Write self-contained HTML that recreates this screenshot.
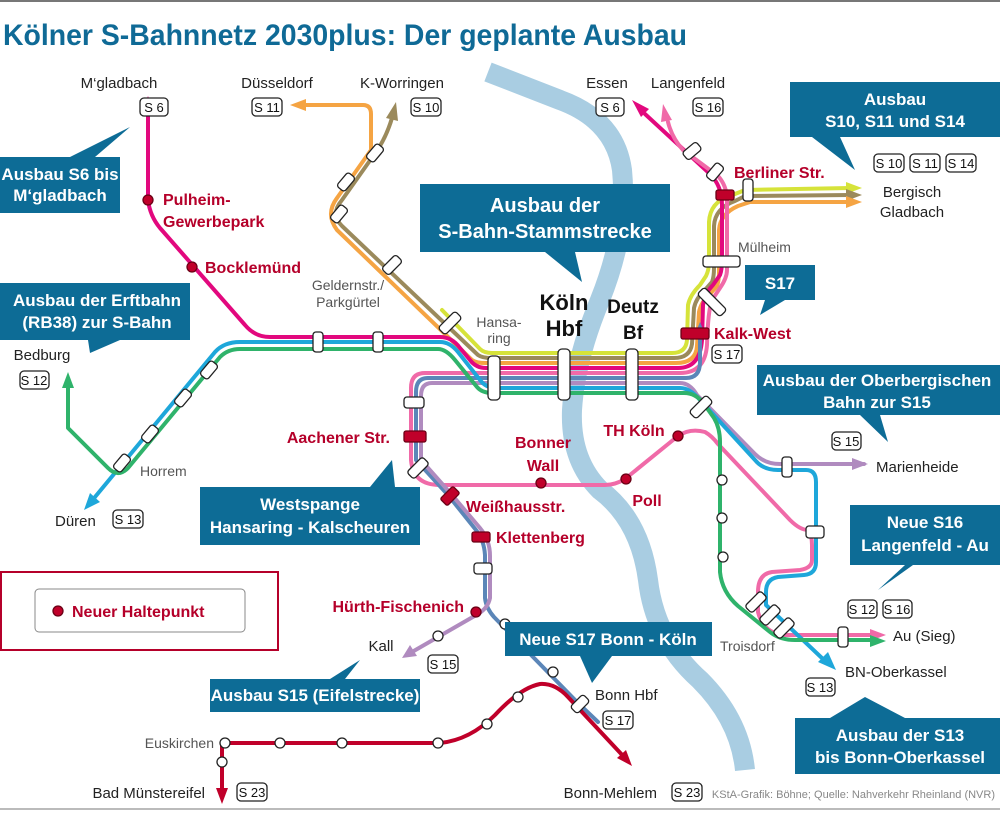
<!DOCTYPE html>
<html><head><meta charset="utf-8"><style>
html,body{margin:0;padding:0;background:#fff;}
svg{display:block;font-family:"Liberation Sans",sans-serif;}
.l{font-size:15px;fill:#222;}
.g{font-size:14px;fill:#555;}
.r{font-size:16px;fill:#b5002a;font-weight:bold;}
.c{font-size:17px;fill:#fff;font-weight:bold;}
.t{font-size:13px;fill:#111;}
.st{fill:#fff;stroke:#222;stroke-width:1.3;}
.rs{fill:#c0002a;stroke:#6a0015;stroke-width:1.3;}
</style></head><body>
<svg width="1000" height="820" viewBox="0 0 1000 820">
<rect x="0" y="0" width="1000" height="2" fill="#777"/>
<rect x="0" y="808" width="1000" height="2" fill="#bbb"/>
<text x="3" y="45" font-size="30" font-weight="bold" fill="#0f6a96" textLength="684" lengthAdjust="spacingAndGlyphs">Kölner S-Bahnnetz 2030plus: Der geplante Ausbau</text>

<!-- river -->
<path d="M488,72 L560,100 Q615,120 622,170 Q628,230 600,300 Q575,360 572,410 Q570,460 600,490 Q640,520 648,580 Q655,640 700,680 Q740,720 745,770" fill="none" stroke="#a9cde2" stroke-width="20"/>

<g fill="none" stroke-width="4" stroke-linejoin="round" stroke-linecap="round">
<path d="M442,310 L480,349 Q484,353 492,353 L672,353 Q686,353 687,340 L688,305 Q690,295 700,285 L706,276 Q709,270 709,262 L709,222 Q710,202 730,196 L745,190 L850,188" stroke="#d6e33a"/>
<path d="M392,118 Q386,138 376,152 L342,200 Q330,214 342,226 L478,355 Q482,358 492,358 L674,358 Q690,358 692,344 L694,308 Q696,298 705,290 L712,282 Q714,277 714,268 L714,226 Q715,208 735,201 L745,196 L850,195" stroke="#9b8a5c"/>
<path d="M305,105 L363,105 Q371,105 371,114 L371,150 L337,198 Q325,214 337,230 L472,360 Q476,363 486,363 L676,363 Q696,363 697,346 L699,312 Q701,302 710,294 L717,286 Q719,281 719,272 L719,230 Q720,214 738,206 L750,202 L850,202" stroke="#f5a443"/>
<path d="M148,112 L148,200 Q150,216 160,228 L245,325 Q255,337 270,337 L440,337 Q452,337 460,348 L470,360 Q476,368 486,368 L678,368 Q700,368 702,340 L703,305 Q705,293 713,285 L720,275 Q722,270 722,260 L722,205 Q722,186 710,174 L645,114" stroke="#e2087e"/>
<path d="M668,122 Q672,138 683,150 L718,176 Q727,186 727,200 L727,270 Q727,278 720,288 L712,300 Q708,310 707,345 Q705,373 680,373 L425,373 Q411,373 411,388 L411,460 Q413,485 440,485 L605,485 Q615,485 625,479 L678,436 Q690,428 705,432 Q712,436 718,444 L790,520 Q800,530 808,530 Q812,535 812,545 L812,560 Q812,568 800,570 L772,572 Q758,574 758,592 L758,612 Q762,628 775,633 L785,635 L870,635" stroke="#f06aa8"/>
<path d="M700,332 L700,362 Q700,378 686,378 L428,378 Q416,378 416,392 L416,460 L448,495 L476,530 Q484,540 485,555 L485,598 Q486,608 494,617 L578,703 L598,722" stroke="#5b86b8"/>
<path d="M864,464 L780,464 Q765,464 755,454 L697,395 Q690,383 680,383 L432,383 Q421,383 421,396 L421,460 L452,495 L480,528 Q490,540 490,556 L490,598 Q488,608 478,614 L412,652" stroke="#b08bbf"/>
<path d="M95,497 L215,352 Q224,342 240,342 L440,342 Q450,342 458,352 L480,380 Q486,388 496,388 L680,388 Q690,388 700,400 L755,460 Q763,470 778,470 L806,470 Q816,470 816,482 L816,562 Q816,574 804,575 L778,577 Q766,579 766,592 L766,605 L824,660" stroke="#1ea7da"/>
<path d="M68,385 L68,428 L108,468 Q118,478 128,468 L220,357 Q228,349 240,349 L438,349 Q446,349 455,360 L477,387 Q482,393 492,393 L684,393 Q696,393 704,404 L714,418 Q720,428 720,442 L720,572 Q722,592 738,606 L770,632 Q780,640 795,640 L870,640" stroke="#2fb36b"/>
<path d="M222,790 L222,743 L440,743 Q470,740 495,715 Q520,688 540,684 Q555,683 568,697 L625,758" stroke="#c0002a"/>
</g>
<g>
<polygon points="148,96 142,112 154,112" fill="#e2087e"/>
<polygon points="290,105 306,99 306,111" fill="#f5a443"/>
<polygon points="396,102 386,118 398,121" fill="#9b8a5c"/>
<polygon points="632,100 641,117 649,109" fill="#e2087e"/>
<polygon points="663,104 661,122 672,120" fill="#f06aa8"/>
<polygon points="862,188 846,182 846,194" fill="#d6e33a"/>
<polygon points="862,195 846,189 846,201" fill="#9b8a5c"/>
<polygon points="862,202 846,196 846,208" fill="#f5a443"/>
<polygon points="68,372 62,388 74,388" fill="#2fb36b"/>
<polygon points="84,510 90,493 100,502" fill="#1ea7da"/>
<polygon points="700,322 695,334 705,334" fill="#5b86b8"/>
<polygon points="868,464 852,458 852,470" fill="#b08bbf"/>
<polygon points="886,635 870,629 870,641" fill="#f06aa8"/>
<polygon points="886,641 870,635 870,647" fill="#2fb36b"/>
<polygon points="836,670 818,662 828,652" fill="#1ea7da"/>
<polygon points="402,658 410,645 417,656" fill="#b08bbf"/>
<polygon points="222,804 216,788 228,788" fill="#c0002a"/>
<polygon points="632,766 617,758 626,750" fill="#c0002a"/>
</g>

<g class="st">
<rect x="488" y="356" width="12" height="44" rx="4"/>
<rect x="558" y="349" width="12" height="51" rx="4"/>
<rect x="626" y="349" width="12" height="51" rx="4"/>
<rect x="313" y="332" width="10" height="20" rx="3"/>
<rect x="373" y="332" width="10" height="20" rx="3"/>
<rect x="703" y="256" width="37" height="11" rx="3"/>
<rect x="743" y="179" width="10" height="22" rx="3"/>
<rect x="782" y="457" width="10" height="20" rx="3"/>
<rect x="838" y="627" width="10" height="20" rx="3"/>
<rect x="806" y="526" width="18" height="12" rx="3"/>
<rect x="404" y="397" width="20" height="11" rx="3"/>
<rect x="474" y="563" width="18" height="11" rx="3"/>
<g transform="translate(122,463) rotate(-50)"><rect x="-9" y="-5" width="18" height="10" rx="3"/></g>
<g transform="translate(150,434) rotate(-50)"><rect x="-9" y="-5" width="18" height="10" rx="3"/></g>
<g transform="translate(183,398) rotate(-50)"><rect x="-9" y="-5" width="18" height="10" rx="3"/></g>
<g transform="translate(209,370) rotate(-50)"><rect x="-9" y="-5" width="18" height="10" rx="3"/></g>
<g transform="translate(375,153) rotate(-50)"><rect x="-9" y="-5" width="18" height="10" rx="3"/></g>
<g transform="translate(346,182) rotate(-50)"><rect x="-9" y="-5" width="18" height="10" rx="3"/></g>
<g transform="translate(339,214) rotate(-50)"><rect x="-9" y="-5" width="18" height="10" rx="3"/></g>
<g transform="translate(392,265) rotate(-45)"><rect x="-10" y="-5" width="20" height="10" rx="3"/></g>
<g transform="translate(450,323) rotate(-45)"><rect x="-12" y="-5" width="24" height="10" rx="3"/></g>
<g transform="translate(692,151) rotate(-40)"><rect x="-9" y="-5" width="18" height="10" rx="3"/></g>
<g transform="translate(715,172) rotate(-50)"><rect x="-9" y="-5" width="18" height="10" rx="3"/></g>
<g transform="translate(712,302) rotate(45)"><rect x="-16" y="-5" width="32" height="10" rx="3"/></g>
<g transform="translate(701,407) rotate(-45)"><rect x="-12" y="-5" width="24" height="10" rx="3"/></g>
<g transform="translate(418,468) rotate(-45)"><rect x="-11" y="-5" width="22" height="10" rx="3"/></g>
<g transform="translate(756,602) rotate(-45)"><rect x="-11" y="-5" width="22" height="10" rx="3"/></g>
<g transform="translate(770,615) rotate(-45)"><rect x="-11" y="-5" width="22" height="10" rx="3"/></g>
<g transform="translate(784,628) rotate(-45)"><rect x="-11" y="-5" width="22" height="10" rx="3"/></g>
<g transform="translate(580,704) rotate(-45)"><rect x="-9" y="-5" width="18" height="10" rx="3"/></g>
<circle cx="722" cy="480" r="5"/><circle cx="722" cy="518" r="5"/><circle cx="723" cy="557" r="5"/>
<circle cx="438" cy="636" r="5"/><circle cx="505" cy="624" r="5"/><circle cx="553" cy="672" r="5"/>
<circle cx="225" cy="743" r="5"/><circle cx="280" cy="743" r="5"/><circle cx="342" cy="743" r="5"/><circle cx="438" cy="743" r="5"/><circle cx="487" cy="724" r="5"/><circle cx="518" cy="697" r="5"/><circle cx="222" cy="762" r="5"/>
</g>
<g class="rs">
<rect x="716" y="190" width="18" height="10" rx="2"/>
<rect x="681" y="328" width="28" height="11" rx="2"/>
<rect x="404" y="431" width="22" height="11" rx="2"/>
<rect x="472" y="532" width="18" height="10" rx="2"/>
<g transform="translate(450,496) rotate(-45)"><rect x="-9" y="-5" width="18" height="10" rx="2"/></g>
<circle cx="148" cy="200" r="5"/><circle cx="192" cy="267" r="5"/>
<circle cx="541" cy="483" r="5"/><circle cx="626" cy="479" r="5"/><circle cx="678" cy="436" r="5"/>
<circle cx="476" cy="612" r="5"/>
</g>

<g fill="#0d6c96">
<rect x="0" y="157" width="120" height="56"/><polygon points="70,157 130,127 95,157"/>
<rect x="0" y="283" width="190" height="57"/><polygon points="88,340 90,353 120,340"/>
<rect x="420" y="184" width="250" height="68"/><polygon points="545,252 582,282 575,252"/>
<rect x="790" y="82" width="210" height="55"/><polygon points="812,137 855,170 840,137"/>
<rect x="745" y="265" width="70" height="35"/><polygon points="765,300 760,315 785,300"/>
<rect x="757" y="365" width="243" height="50"/><polygon points="860,415 888,442 880,415"/>
<rect x="200" y="487" width="220" height="58"/><polygon points="370,487 392,460 395,487"/>
<rect x="850" y="505" width="150" height="60"/><polygon points="905,565 913,565 878,590"/>
<rect x="505" y="622" width="207" height="34"/><polygon points="580,656 592,683 612,656"/>
<rect x="210" y="679" width="210" height="33"/><polygon points="330,679 360,660 345,679"/>
<rect x="795" y="718" width="205" height="56"/><polygon points="830,718 865,697 905,718"/>
</g>
<g class="c" text-anchor="middle">
<text x="60" y="180">Ausbau S6 bis</text><text x="60" y="201">M‘gladbach</text>
<text x="97" y="306">Ausbau der Erftbahn</text><text x="97" y="328">(RB38) zur S-Bahn</text>
<text x="545" y="212" font-size="20">Ausbau der</text><text x="545" y="238" font-size="20">S-Bahn-Stammstrecke</text>
<text x="895" y="105">Ausbau</text><text x="895" y="127">S10, S11 und S14</text>
<text x="780" y="289">S17</text>
<text x="877" y="386">Ausbau der Oberbergischen</text><text x="877" y="408">Bahn zur S15</text>
<text x="310" y="510">Westspange</text><text x="310" y="533">Hansaring - Kalscheuren</text>
<text x="925" y="528">Neue S16</text><text x="925" y="551">Langenfeld - Au</text>
<text x="608" y="645">Neue S17 Bonn - Köln</text>
<text x="315" y="701">Ausbau S15 (Eifelstrecke)</text>
<text x="900" y="741">Ausbau der S13</text><text x="900" y="763">bis Bonn-Oberkassel</text>
</g>

<rect x="1" y="572" width="277" height="78" fill="none" stroke="#b5002a" stroke-width="2"/>
<rect x="35" y="589" width="210" height="43" rx="4" fill="#fff" stroke="#888"/>
<circle cx="58" cy="611" r="5" class="rs"/>
<text x="72" y="617" class="r">Neuer Haltepunkt</text>

<g fill="#fff" stroke="#222" stroke-width="1.3">
<rect x="140" y="98" width="28" height="18" rx="4"/><rect x="252" y="98" width="30" height="18" rx="4"/><rect x="411" y="98" width="30" height="18" rx="4"/>
<rect x="596" y="98" width="28" height="18" rx="4"/><rect x="693" y="98" width="30" height="18" rx="4"/>
<rect x="874" y="154" width="30" height="18" rx="4"/><rect x="910" y="154" width="30" height="18" rx="4"/><rect x="946" y="154" width="30" height="18" rx="4"/>
<rect x="712" y="345" width="30" height="18" rx="4"/><rect x="20" y="371" width="29" height="18" rx="4"/><rect x="113" y="510" width="30" height="18" rx="4"/>
<rect x="832" y="432" width="29" height="18" rx="4"/><rect x="848" y="600" width="29" height="18" rx="4"/><rect x="883" y="600" width="29" height="18" rx="4"/>
<rect x="806" y="678" width="29" height="18" rx="4"/><rect x="428" y="655" width="30" height="18" rx="4"/><rect x="603" y="711" width="30" height="18" rx="4"/>
<rect x="237" y="783" width="30" height="18" rx="4"/><rect x="672" y="783" width="30" height="18" rx="4"/>
</g>
<g class="t" text-anchor="middle">
<text x="154" y="112">S 6</text><text x="267" y="112">S 11</text><text x="426" y="112">S 10</text>
<text x="610" y="112">S 6</text><text x="708" y="112">S 16</text>
<text x="889" y="168">S 10</text><text x="925" y="168">S 11</text><text x="961" y="168">S 14</text>
<text x="727" y="359">S 17</text><text x="34" y="385">S 12</text><text x="128" y="524">S 13</text>
<text x="846" y="446">S 15</text><text x="862" y="614">S 12</text><text x="897" y="614">S 16</text>
<text x="820" y="692">S 13</text><text x="443" y="669">S 15</text><text x="618" y="725">S 17</text>
<text x="252" y="797">S 23</text><text x="687" y="797">S 23</text>
</g>

<g class="l" text-anchor="middle">
<text x="119" y="88">M‘gladbach</text><text x="277" y="88">Düsseldorf</text><text x="402" y="88">K-Worringen</text>
<text x="607" y="88">Essen</text><text x="688" y="88">Langenfeld</text>
<text x="912" y="197">Bergisch</text><text x="912" y="217">Gladbach</text>
<text x="381" y="651">Kall</text><text x="42" y="360">Bedburg</text>
</g>
<g class="l">
<text x="55" y="526">Düren</text><text x="876" y="472">Marienheide</text><text x="893" y="641">Au (Sieg)</text>
<text x="845" y="677">BN-Oberkassel</text><text x="595" y="700">Bonn Hbf</text>
<text x="657" y="798" text-anchor="end">Bonn-Mehlem</text><text x="205" y="798" text-anchor="end">Bad Münstereifel</text>
</g>
<g class="g">
<text x="738" y="252">Mülheim</text><text x="140" y="476">Horrem</text><text x="720" y="651">Troisdorf</text>
<text x="214" y="748" text-anchor="end">Euskirchen</text>
<text x="348" y="290" text-anchor="middle">Geldernstr./</text><text x="348" y="307" text-anchor="middle">Parkgürtel</text>
<text x="499" y="327" text-anchor="middle">Hansa-</text><text x="499" y="343" text-anchor="middle">ring</text>
</g>
<g font-weight="bold" fill="#111" text-anchor="middle">
<text x="564" y="310" font-size="22">Köln</text><text x="564" y="336" font-size="22">Hbf</text>
<text x="633" y="313" font-size="19">Deutz</text><text x="633" y="339" font-size="19">Bf</text>
</g>
<g class="r">
<text x="163" y="205">Pulheim-</text><text x="163" y="227">Gewerbepark</text>
<text x="205" y="273">Bocklemünd</text>
<text x="734" y="178">Berliner Str.</text>
<text x="714" y="339">Kalk-West</text>
<text x="390" y="443" text-anchor="end">Aachener Str.</text>
<text x="543" y="448" text-anchor="middle">Bonner</text><text x="543" y="471" text-anchor="middle">Wall</text>
<text x="634" y="436" text-anchor="middle">TH Köln</text>
<text x="647" y="506" text-anchor="middle">Poll</text>
<text x="466" y="512">Weißhausstr.</text>
<text x="496" y="543">Klettenberg</text>
<text x="464" y="612" text-anchor="end">Hürth-Fischenich</text>
</g>
<text x="995" y="798" text-anchor="end" font-size="11" fill="#888">KStA-Grafik: Böhne; Quelle: Nahverkehr Rheinland (NVR)</text>
</svg>
</body></html>
